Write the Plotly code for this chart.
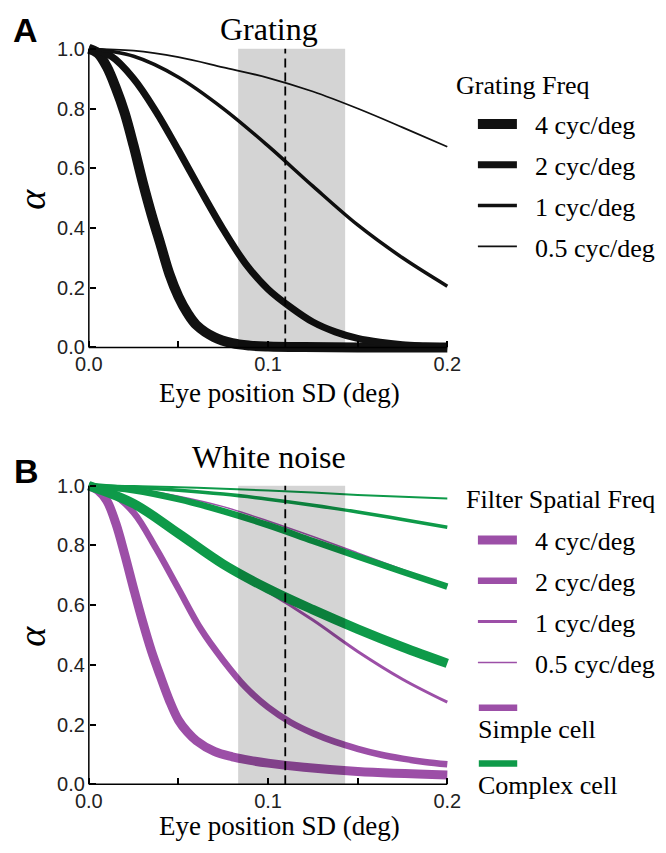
import plotly.graph_objects as go

# ---------------- data ----------------
freq_labels = ["4 cyc/deg", "2 cyc/deg", "1 cyc/deg", "0.5 cyc/deg"]

# Panel A: grating
sd_a4 = [0, 0.005, 0.01, 0.015, 0.02, 0.025, 0.03, 0.035, 0.04, 0.045, 0.05,
         0.055, 0.06, 0.07, 0.08, 0.09, 0.1, 0.12, 0.15, 0.2]
grating_4 = [1.0, 0.985, 0.94, 0.87, 0.785, 0.675, 0.555, 0.445, 0.345, 0.245, 0.17,
             0.115, 0.075, 0.034, 0.014, 0.006, 0.003, 0.001, 0.0, 0.0]
sd_mid = [0, 0.0125, 0.025, 0.0375, 0.05, 0.0625, 0.075, 0.0875, 0.1, 0.1125,
          0.125, 0.1375, 0.15, 0.1625, 0.175, 0.1875, 0.2]
grating_2 = [1.0, 0.975, 0.90, 0.79, 0.66, 0.525, 0.395, 0.28, 0.195, 0.135,
             0.085, 0.052, 0.03, 0.017, 0.009, 0.005, 0.002]
sd_coarse = [0, 0.025, 0.05, 0.075, 0.1, 0.125, 0.15, 0.175, 0.2]
grating_1 = [1.0, 0.975, 0.905, 0.80, 0.675, 0.54, 0.41, 0.30, 0.205]
grating_05 = [1.0, 0.994, 0.972, 0.938, 0.903, 0.857, 0.80, 0.737, 0.672]

# Panel B: white noise, simple cells
simple_4 = [1.0, 0.985, 0.95, 0.875, 0.77, 0.655, 0.545, 0.445, 0.36, 0.28, 0.215,
            0.175, 0.146, 0.11, 0.092, 0.08, 0.071, 0.057, 0.043, 0.031]
simple_2 = [1.0, 0.975, 0.91, 0.79, 0.655, 0.52, 0.415, 0.325, 0.258, 0.208,
            0.171, 0.142, 0.119, 0.10, 0.086, 0.075, 0.067]
simple_1 = [1.0, 0.94, 0.835, 0.73, 0.645, 0.55, 0.445, 0.352, 0.275]
simple_05 = [1.0, 0.99, 0.965, 0.93, 0.882, 0.83, 0.775, 0.72, 0.665]
# complex cells
complex_4 = [1.0, 0.94, 0.84, 0.737, 0.655, 0.585, 0.52, 0.46, 0.405]
complex_2 = [1.0, 0.985, 0.955, 0.915, 0.868, 0.815, 0.763, 0.712, 0.662]
complex_1 = [1.0, 0.995, 0.985, 0.972, 0.955, 0.935, 0.912, 0.887, 0.861]
complex_05 = [1.0, 0.999, 0.995, 0.99, 0.984, 0.977, 0.969, 0.963, 0.957]

# shaded range of measured eye-position SD and its median
band_lo, band_hi = 0.0833, 0.143
median_sd = 0.1096

x_tick_vals = [0, 0.05, 0.1, 0.15, 0.2]
x_tick_text = ["0.0", "", "0.1", "", "0.2"]
y_tick_vals = [0, 0.2, 0.4, 0.6, 0.8, 1.0]
y_tick_text = ["0.0", "0.2", "0.4", "0.6", "0.8", "1.0"]

# ---------------- style / layout ----------------
BLACK = "#111111"
PURPLE = "#9c4fa7"
GREEN = "#0e9a49"
SERIF = "Liberation Serif"
SANS = "Liberation Sans"

W, H = 666, 853               # page size (reference pixels)
OFF = 8                       # page body margin
FW, FH = W - OFF, H - OFF     # figure size

AX_L, AX_R = 85, 449          # page x of sd=0 and sd=0.2
A_BOT, A_TOP = 347, 47        # page y of alpha=0 and alpha=1 (panel A)
B_BOT, B_TOP = 786, 486       # panel B
X_PAD, Y_PAD = 0.005, 0.03
kx = (AX_R - AX_L) / 0.2
ky = (A_BOT - A_TOP) / 1.0


def px(x):
    return (x - OFF) / FW


def py(y):
    return 1 - (y - OFF) / FH


x_dom = [px(AX_L - X_PAD * kx), px(AX_R + X_PAD * kx)]


def y_dom(bot, top):
    return [py(bot + Y_PAD * ky), py(top - Y_PAD * ky)]


fig = go.Figure()
NB = "\u00a0\u00a0"

a_sets = [(sd_a4, grating_4, 10), (sd_mid, grating_2, 7),
          (sd_coarse, grating_1, 3.5), (sd_coarse, grating_05, 1.8)]
for i, (xs, ys, w) in enumerate(a_sets):
    fig.add_trace(go.Scatter(
        x=xs, y=ys, mode="lines", line=dict(color=BLACK, width=w, shape="spline"),
        name=NB + freq_labels[i], legend="legend", legendgroup="a%d" % i,
        xaxis="x", yaxis="y", hoverinfo="skip"))

s_sets = [(sd_a4, simple_4, 9), (sd_mid, simple_2, 6.5),
          (sd_coarse, simple_1, 3), (sd_coarse, simple_05, 1.5)]
for i, (xs, ys, w) in enumerate(s_sets):
    fig.add_trace(go.Scatter(
        x=xs, y=ys, mode="lines", line=dict(color=PURPLE, width=w, shape="spline"),
        name=NB + freq_labels[i], legend="legend2", legendgroup="b%d" % i,
        xaxis="x2", yaxis="y2", hoverinfo="skip"))

c_sets = [(sd_coarse, complex_4, 9.5), (sd_coarse, complex_2, 6.5),
          (sd_coarse, complex_1, 3.5), (sd_coarse, complex_05, 2)]
for i, (xs, ys, w) in enumerate(c_sets):
    fig.add_trace(go.Scatter(
        x=xs, y=ys, mode="lines", line=dict(color=GREEN, width=w, shape="spline"),
        name="Complex " + freq_labels[i], showlegend=False,
        xaxis="x2", yaxis="y2", hoverinfo="skip"))

tickfont = dict(family=SANS, size=20, color="#222222")
common_x = dict(range=[-X_PAD, 0.2 + X_PAD], domain=x_dom, anchor="free",
                tickmode="array", tickvals=x_tick_vals, ticktext=x_tick_text,
                ticks="inside", ticklen=6, tickwidth=1.5, tickcolor="black",
                showline=False, showgrid=False, zeroline=False, tickfont=tickfont,
                ticklabelstandoff=3)
common_y = dict(range=[-Y_PAD, 1 + Y_PAD], anchor="free", position=px(AX_L),
                tickmode="array", tickvals=y_tick_vals, ticktext=y_tick_text,
                ticks="inside", ticklen=6, tickwidth=1.5, tickcolor="black",
                showline=False, showgrid=False, zeroline=False, tickfont=tickfont,
                ticklabelstandoff=4)

shapes = []
for xr, yr in (("x", "y"), ("x2", "y2")):
    shapes.append(dict(type="rect", xref=xr, yref=yr, x0=band_lo, x1=band_hi, y0=0, y1=1.0,
                       fillcolor="rgba(0,0,0,0.17)", line=dict(width=0), layer="above"))
    shapes.append(dict(type="line", xref=xr, yref=yr, x0=median_sd, x1=median_sd, y0=0, y1=1.0,
                       line=dict(color="black", width=1.8, dash="9px,5px"), layer="above"))
    shapes.append(dict(type="line", xref=xr, yref=yr, x0=0, x1=0.2, y0=0, y1=0,
                       line=dict(color="black", width=1.5), layer="above"))
    shapes.append(dict(type="line", xref=xr, yref=yr, x0=0, x1=0, y0=0, y1=1.0,
                       line=dict(color="black", width=1.5), layer="above"))

# legend keys for cell type (swatch above label)
for ypos, col in ((709, PURPLE), (765, GREEN)):
    shapes.append(dict(type="line", xref="paper", yref="paper",
                       x0=px(481), x1=px(520), y0=py(ypos), y1=py(ypos),
                       line=dict(color=col, width=6.5)))


def ann(text, x, y, size, family=SERIF, xanchor="center", angle=0, color="black",
        yanchor="middle", borderpad=1):
    return dict(text=text, x=px(x), y=py(y), xref="paper", yref="paper",
                xanchor=xanchor, yanchor=yanchor, showarrow=False, textangle=angle,
                borderpad=borderpad, font=dict(family=family, size=size, color=color))


annotations = [
    ann("<b>A</b>", 20.5, 28.5, 34, family=SANS),
    ann("<b>B</b>", 21.5, 471, 34, family=SANS),
    ann("Grating", 268, OFF, 32, yanchor="top", borderpad=0),
    ann("White noise", 268, 457, 32),
    ann("<i>α</i>", 27, 198, 38, angle=-90),
    ann("<i>α</i>", 27, 637, 38, angle=-90),
    ann("Eye position SD (deg)", 279, 393, 27),
    ann("Eye position SD (deg)", 279, 828, 27),
    ann("Grating Freq", 456, 84, 26, xanchor="left"),
    ann("Filter Spatial Freq", 466, 500, 26, xanchor="left"),
    ann("Simple cell", 478, 731, 26, xanchor="left"),
    ann("Complex cell", 478, 787, 26, xanchor="left"),
]

legend_common = dict(xref="paper", yref="paper", xanchor="left", yanchor="top",
                     font=dict(family=SERIF, size=26, color="black"), itemwidth=39,
                     tracegroupgap=4, bgcolor="rgba(0,0,0,0)", borderwidth=0,
                     traceorder="grouped")

fig.update_layout(
    width=FW, height=FH, autosize=False,
    margin=dict(l=0, r=0, t=0, b=0),
    paper_bgcolor="white", plot_bgcolor="white",
    xaxis=dict(common_x, position=py(A_BOT)),
    yaxis=dict(common_y, domain=y_dom(A_BOT, A_TOP)),
    xaxis2=dict(common_x, position=py(B_BOT)),
    yaxis2=dict(common_y, domain=y_dom(B_BOT, B_TOP)),
    legend=dict(legend_common, x=px(475), y=py(99)),
    legend2=dict(legend_common, x=px(475), y=py(517)),
    shapes=shapes,
    annotations=annotations,
    showlegend=True,
)

fig.write_html("out.html")
